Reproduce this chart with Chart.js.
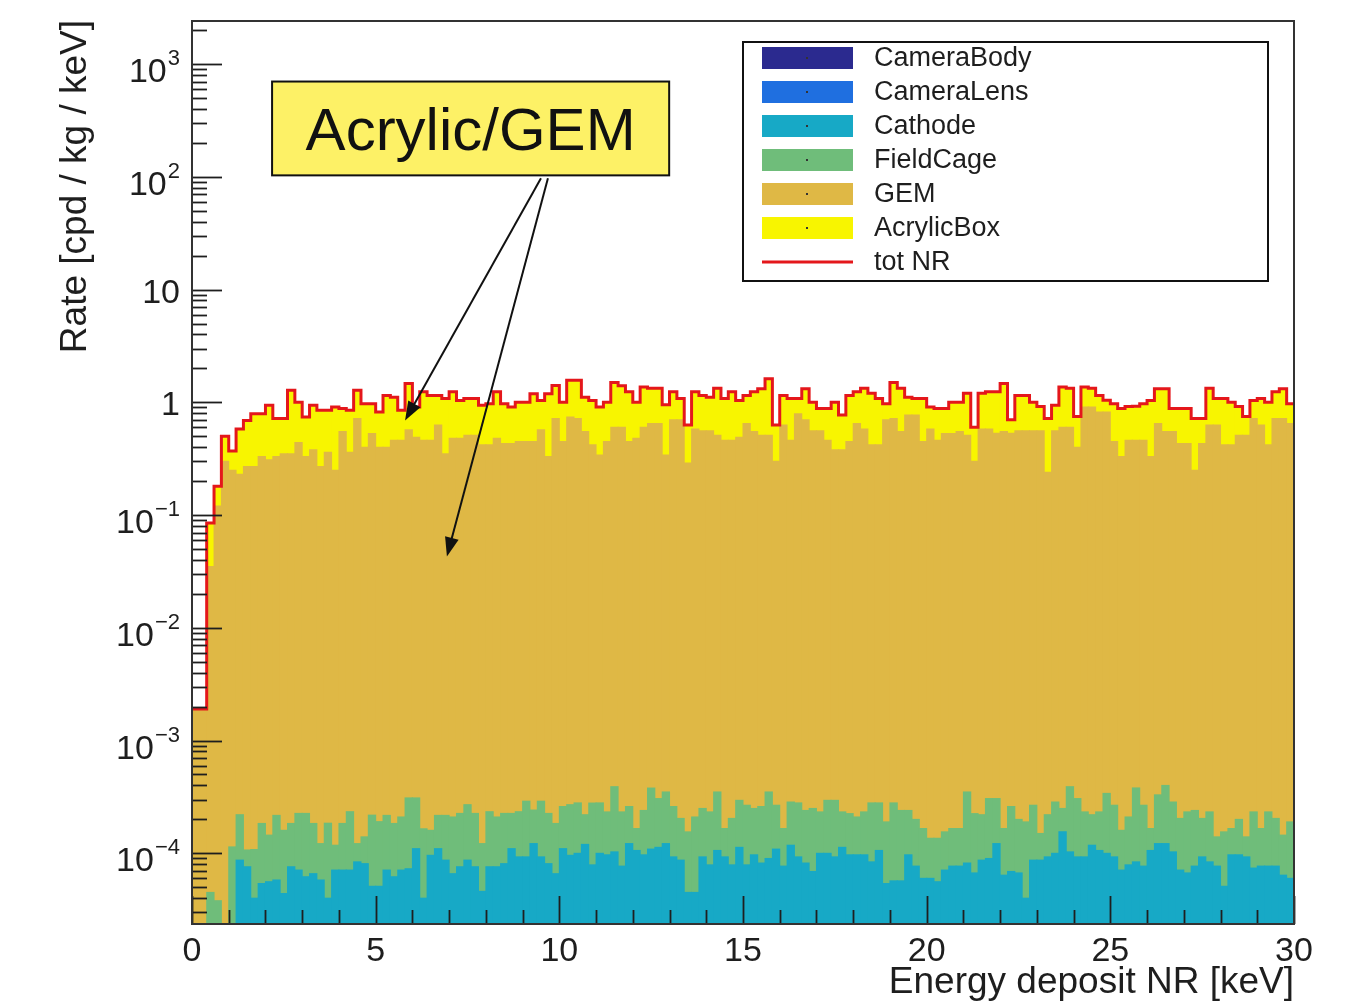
<!DOCTYPE html>
<html>
<head>
<meta charset="utf-8">
<script src="https://cdn.jsdelivr.net/npm/chart.js@4.4.0/dist/chart.umd.min.js"></script>
<style>
  html, body { margin: 0; padding: 0; background: #fff; }
  #wrap { width: 1358px; height: 1004px; position: relative; }
</style>
</head>
<body>
<div id="wrap"><canvas id="nr_chart"></canvas></div>
<script>
// histogram binning (keV) and axis range
const binWidth = 0.2;
const xMin = 0, xMax = 30;
const yMin = 2.36e-5, yMax = 2410;
const xTickLabels = [0, 5, 10, 15, 20, 25, 30];
const yDecades = [-4, -3, -2, -1, 0, 1, 2, 3];

// rates per bin [cpd / kg / keV]
const cathode = [0,0,0,0,0,0,8.7e-5,7.6e-5,4.0e-5,5.4e-5,
  5.6e-5,5.8e-5,4.4e-5,7.6e-5,7.1e-5,6.2e-5,6.6e-5,5.8e-5,4.0e-5,7.1e-5,
  7.1e-5,7.1e-5,8.4e-5,8.1e-5,5.1e-5,5.1e-5,7.1e-5,6.2e-5,7.1e-5,7.3e-5,
  1.1e-4,4.0e-5,9.6e-5,1.1e-4,8.7e-5,6.6e-5,7.6e-5,8.7e-5,7.6e-5,4.6e-5,
  7.6e-5,7.6e-5,8.1e-5,1.1e-4,9.3e-5,9.3e-5,1.22e-4,9.3e-5,8.1e-5,6.6e-5,
  1.1e-4,9.6e-5,1.0e-4,1.2e-4,7.9e-5,1.0e-4,9.7e-5,1.03e-4,7.7e-5,1.22e-4,
  1.06e-4,9.7e-5,1.09e-4,1.13e-4,1.22e-4,9.3e-5,8.7e-5,4.5e-5,4.5e-5,9.3e-5,
  7.9e-5,1.06e-4,9.3e-5,7.9e-5,1.13e-4,7.9e-5,9.7e-5,8.2e-5,9.0e-5,1.09e-4,
  7.7e-5,1.18e-4,9.3e-5,8.2e-5,6.9e-5,1.0e-4,1.0e-4,9.3e-5,1.13e-4,9.7e-5,
  9.7e-5,9.7e-5,8.4e-5,1.06e-4,5.4e-5,5.7e-5,5.7e-5,9.7e-5,7.7e-5,6.0e-5,
  6.0e-5,5.6e-5,7.1e-5,7.7e-5,7.7e-5,8.2e-5,6.7e-5,8.7e-5,9.0e-5,1.22e-4,
  6.4e-5,6.9e-5,6.7e-5,4.0e-5,8.7e-5,8.7e-5,9.3e-5,1.0e-4,1.55e-4,1.03e-4,
  9.3e-5,9.3e-5,1.18e-4,1.06e-4,1.0e-4,9.3e-5,7.1e-5,7.9e-5,8.4e-5,7.7e-5,
  1.06e-4,1.22e-4,1.22e-4,1.03e-4,7.1e-5,6.7e-5,7.7e-5,9.3e-5,8.4e-5,7.7e-5,
  5.1e-5,9.7e-5,9.7e-5,9.3e-5,7.4e-5,7.7e-5,7.7e-5,7.7e-5,6.4e-5,6.0e-5];

const fieldCage = [0,0,4.5e-5,3.8e-5,0,1.14e-4,1.33e-4,3.1e-5,6.8e-5,1.3e-4,
  8.9e-5,1.59e-4,1.16e-4,1.08e-4,1.55e-4,1.64e-4,1.18e-4,6.4e-5,1.45e-4,4.7e-5,
  1.13e-4,1.63e-4,3.8e-5,5.9e-5,1.67e-4,1.4e-4,1.46e-4,1.22e-4,1.39e-4,2.37e-4,
  2.0e-4,1.25e-4,6.4e-5,1.07e-4,1.3e-4,1.44e-4,1.5e-4,1.83e-4,1.5e-4,7.6e-5,
  1.58e-4,1.34e-4,1.45e-4,1.16e-4,1.41e-4,1.97e-4,1.2e-4,1.97e-4,1.45e-4,1.18e-4,
  1.5e-4,1.74e-4,1.8e-4,1.0e-4,2.0e-4,1.8e-4,1.36e-4,2.87e-4,1.56e-4,1.38e-4,
  6.0e-5,1.43e-4,2.7e-4,1.93e-4,2.28e-4,1.67e-4,1.17e-4,1.1e-4,1.65e-4,1.57e-4,
  1.54e-4,2.44e-4,7.3e-5,1.25e-4,1.82e-4,1.88e-4,1.53e-4,1.78e-4,2.6e-4,1.58e-4,
  8.9e-5,1.67e-4,1.87e-4,1.58e-4,1.81e-4,1.33e-4,1.95e-4,2.02e-4,1.2e-4,1.28e-4,
  1.13e-4,1.36e-4,1.96e-4,1.74e-4,1.36e-4,2.23e-4,1.83e-4,1.43e-4,1.23e-4,1.06e-4,
  7.6e-5,8.0e-5,8.4e-5,8.9e-5,8.9e-5,2.68e-4,1.58e-4,1.33e-4,2.16e-4,1.84e-4,
  1.02e-4,1.91e-4,1.33e-4,1.5e-4,1.8e-4,6.3e-5,1.27e-4,1.85e-4,9.5e-5,2.87e-4,
  2.13e-4,1.4e-4,1.02e-4,1.27e-4,2.4e-4,1.74e-4,8.9e-5,1.31e-4,2.96e-4,1.9e-4,
  6.0e-5,2.08e-4,2.78e-4,1.82e-4,1.33e-4,1.66e-4,1.63e-4,1.11e-4,1.49e-4,6.3e-5,
  1.04e-4,6.9e-5,1.03e-4,4.7e-5,1.59e-4,8.9e-5,1.56e-4,1.27e-4,8.1e-5,1.3e-4];

const gem = [0.0019,0.0019,0.035,0.12,0.30,0.25,0.23,0.27,0.27,0.33,
  0.31,0.33,0.35,0.35,0.44,0.33,0.38,0.27,0.36,0.25,
  0.55,0.36,0.72,0.40,0.53,0.40,0.40,0.46,0.46,0.57,
  0.49,0.46,0.46,0.63,0.35,0.48,0.48,0.51,0.51,0.42,
  0.42,0.48,0.43,0.43,0.45,0.45,0.45,0.57,0.33,0.72,
  0.45,0.74,0.72,0.55,0.42,0.34,0.45,0.60,0.60,0.45,
  0.48,0.60,0.65,0.65,0.34,0.70,0.70,0.29,0.58,0.56,
  0.56,0.51,0.46,0.46,0.49,0.65,0.55,0.51,0.51,0.30,
  0.63,0.46,0.79,0.70,0.56,0.56,0.46,0.38,0.38,0.45,
  0.65,0.58,0.42,0.42,0.70,0.72,0.55,0.77,0.77,0.45,
  0.58,0.46,0.53,0.53,0.55,0.51,0.30,0.58,0.58,0.53,
  0.55,0.53,0.56,0.56,0.56,0.56,0.24,0.56,0.60,0.60,
  0.40,0.91,0.91,0.82,0.82,0.45,0.33,0.46,0.46,0.46,
  0.33,0.65,0.55,0.55,0.43,0.43,0.25,0.43,0.63,0.63,
  0.42,0.42,0.51,0.51,0.72,0.63,0.42,0.72,0.72,0.65];

const acrylicBox = [0,0,0.05,0.06,0.20,0.12,0.35,0.42,0.52,0.46,
  0.63,0.39,0.37,0.93,0.56,0.41,0.56,0.58,0.49,0.66,
  0.33,0.49,0.56,0.57,0.44,0.42,0.75,0.65,0.39,0.90,
  0.42,0.78,0.69,0.52,0.73,0.76,0.56,0.57,0.57,0.52,
  0.55,0.76,0.54,0.48,0.55,0.55,0.74,0.47,0.86,0.69,
  0.55,0.83,0.85,0.56,0.62,0.57,0.55,0.90,0.80,0.79,
  0.52,0.77,0.68,0.68,0.61,0.54,0.38,0.34,0.66,0.59,
  0.55,0.82,0.62,0.78,0.55,0.50,0.69,0.81,1.11,0.33,
  0.52,0.62,0.29,0.62,0.44,0.32,0.42,0.62,0.39,0.70,
  0.59,0.75,0.78,0.66,0.27,0.78,0.78,0.34,0.31,0.63,
  0.33,0.42,0.35,0.47,0.45,0.69,0.30,0.62,0.66,0.71,
  0.92,0.17,0.59,0.59,0.44,0.36,0.48,0.38,0.77,0.73,
  0.35,0.46,0.42,0.33,0.22,0.52,0.55,0.46,0.46,0.51,
  0.71,0.67,0.77,0.33,0.45,0.45,0.47,0.29,0.70,0.45,
  0.66,0.58,0.41,0.24,0.32,0.45,0.58,0.52,0.60,0.32];

const FONT = "'Liberation Sans', Arial, Helvetica, sans-serif";
const INK = '#1e1e1e';

// bin centres for the bars, bin edges for the total outline
const binCenters = gem.map((_, i) => (i + 0.5) * binWidth);
const totNR = gem.map((_, i) => cathode[i] + fieldCage[i] + gem[i] + acrylicBox[i]);
const totEdges = totNR.map((v, i) => ({ x: i * binWidth, y: v }));
totEdges.push({ x: totNR.length * binWidth, y: totNR[totNR.length - 1] });

const toPoints = arr => arr.map((v, i) => ({ x: binCenters[i], y: v }));

function barSet(label, values, color) {
  return {
    type: 'bar',
    label: label,
    data: toPoints(values),
    backgroundColor: color,
    borderWidth: 0,
    barPercentage: 1,
    categoryPercentage: 1,
    inflateAmount: 0.5,
    order: 1
  };
}

// annotation, in data coordinates
const note = { text: 'Acrylic/GEM', x0: 2.18, x1: 12.99, yTop: 700, yBottom: 103 };
const noteArrows = [
  { from: [9.50, 97], to: [5.80, 0.69] },
  { from: [9.69, 97], to: [6.94, 0.043] }
];

function drawArrow(ctx, x1, y1, x2, y2) {
  const a = Math.atan2(y2 - y1, x2 - x1);
  const len = 19, half = 7;
  ctx.beginPath();
  ctx.moveTo(x1, y1);
  ctx.lineTo(x2 - (len - 2) * Math.cos(a), y2 - (len - 2) * Math.sin(a));
  ctx.stroke();
  ctx.beginPath();
  ctx.moveTo(x2, y2);
  ctx.lineTo(x2 - len * Math.cos(a) + half * Math.sin(a), y2 - len * Math.sin(a) - half * Math.cos(a));
  ctx.lineTo(x2 - len * Math.cos(a) - half * Math.sin(a), y2 - len * Math.sin(a) + half * Math.cos(a));
  ctx.closePath();
  ctx.fill();
}

const rootStyle = {
  id: 'rootStyle',
  afterDatasetsDraw(chart) {
    const { ctx, chartArea: a, scales: { x, y } } = chart;
    ctx.save();
    ctx.strokeStyle = INK;
    // y ticks (log, with minor 2..9)
    for (let k = -5; k <= 3; k++) {
      for (let m = 1; m <= 9; m++) {
        const v = m * Math.pow(10, k);
        if (v < yMin || v > yMax) continue;
        const py = Math.round(y.getPixelForValue(v)) + 0.5;
        ctx.lineWidth = 1.8;
        ctx.beginPath();
        ctx.moveTo(a.left, py);
        ctx.lineTo(a.left + (m === 1 ? 30 : 15), py);
        ctx.stroke();
      }
    }
    // x ticks
    for (let k = xMin; k <= xMax; k++) {
      const px = Math.round(x.getPixelForValue(k)) + 0.5;
      ctx.lineWidth = 1.8;
      ctx.beginPath();
      ctx.moveTo(px, a.bottom);
      ctx.lineTo(px, a.bottom - (k % 5 === 0 ? 28 : 14));
      ctx.stroke();
    }
    // frame
    ctx.lineWidth = 2;
    ctx.strokeStyle = '#333';
    ctx.strokeRect(a.left, a.top, a.right - a.left, a.bottom - a.top);
    ctx.restore();
  },
  afterDraw(chart) {
    const { ctx, chartArea: a, scales: { x, y } } = chart;
    ctx.save();
    ctx.fillStyle = INK;

    // y tick labels with superscript exponents
    yDecades.forEach(k => {
      const py = y.getPixelForValue(Math.pow(10, k));
      const right = 180;
      ctx.textAlign = 'right';
      ctx.textBaseline = 'alphabetic';
      if (k === 0 || k === 1) {
        ctx.font = '34px ' + FONT;
        ctx.fillText(k === 0 ? '1' : '10', right, py + 13);
      } else {
        const sup = k < 0 ? '\u2212' + (-k) : String(k);
        ctx.font = '22px ' + FONT;
        const w = ctx.measureText(sup).width;
        ctx.fillText(sup, right, py + 1);
        ctx.font = '34px ' + FONT;
        ctx.fillText('10', right - w - 1, py + 18);
      }
    });

    // x tick labels
    ctx.font = '34px ' + FONT;
    ctx.textAlign = 'center';
    xTickLabels.forEach(v => {
      ctx.fillText(String(v), x.getPixelForValue(v), 961);
    });

    // axis titles
    ctx.font = '37px ' + FONT;
    ctx.textAlign = 'right';
    ctx.fillText('Energy deposit NR [keV]', a.right, 993);
    ctx.save();
    ctx.translate(86, a.top - 1);
    ctx.rotate(-Math.PI / 2);
    ctx.fillText('Rate [cpd / kg / keV]', 0, 0);
    ctx.restore();

    // legend box
    const lg = { left: 743, top: 42, right: 1268, bottom: 281 };
    ctx.fillStyle = '#fff';
    ctx.fillRect(lg.left, lg.top, lg.right - lg.left, lg.bottom - lg.top);
    ctx.strokeStyle = '#111';
    ctx.lineWidth = 2;
    ctx.strokeRect(lg.left, lg.top, lg.right - lg.left, lg.bottom - lg.top);
    ctx.font = '27px ' + FONT;
    ctx.textAlign = 'left';
    ctx.textBaseline = 'middle';
    chart.data.datasets.forEach((ds, i) => {
      const cy = 58 + i * 34;
      if (ds.type === 'line') {
        ctx.strokeStyle = ds.borderColor;
        ctx.lineWidth = 3;
        ctx.beginPath();
        ctx.moveTo(762, cy);
        ctx.lineTo(853, cy);
        ctx.stroke();
      } else {
        ctx.fillStyle = ds.backgroundColor;
        ctx.fillRect(762, cy - 11, 91, 22);
        ctx.fillStyle = '#333';
        ctx.fillRect(806, cy - 1, 2, 2);
      }
      ctx.fillStyle = INK;
      ctx.fillText(ds.label, 874, cy + 1);
    });

    // annotation box and arrows
    const bx0 = x.getPixelForValue(note.x0), bx1 = x.getPixelForValue(note.x1);
    const by0 = y.getPixelForValue(note.yTop), by1 = y.getPixelForValue(note.yBottom);
    ctx.fillStyle = '#fdf166';
    ctx.fillRect(bx0, by0, bx1 - bx0, by1 - by0);
    ctx.strokeStyle = '#111';
    ctx.lineWidth = 2;
    ctx.strokeRect(bx0, by0, bx1 - bx0, by1 - by0);
    ctx.fillStyle = '#111';
    ctx.font = '60px ' + FONT;
    ctx.textAlign = 'center';
    ctx.textBaseline = 'alphabetic';
    ctx.fillText(note.text, (bx0 + bx1) / 2, (by0 + by1) / 2 + 22);
    ctx.lineWidth = 2;
    noteArrows.forEach(ar => {
      drawArrow(ctx,
        x.getPixelForValue(ar.from[0]), y.getPixelForValue(ar.from[1]),
        x.getPixelForValue(ar.to[0]), y.getPixelForValue(ar.to[1]));
    });
    ctx.restore();
  }
};

const ctx = document.getElementById('nr_chart').getContext('2d');
new Chart(ctx, {
  type: 'bar',
  data: {
    datasets: [
      barSet('CameraBody', [], '#2b2a8f'),
      barSet('CameraLens', [], '#1f6fe0'),
      barSet('Cathode', cathode, '#17a9c6'),
      barSet('FieldCage', fieldCage, '#6fbd7a'),
      barSet('GEM', gem, '#dfb845'),
      barSet('AcrylicBox', acrylicBox, '#f8f500'),
      {
        type: 'line',
        label: 'tot NR',
        data: totEdges,
        borderColor: '#e4171b',
        borderWidth: 3,
        pointRadius: 0,
        fill: false,
        stepped: true,
        stack: 'total',
        order: -1
      }
    ]
  },
  options: {
    responsive: true,
    maintainAspectRatio: false,
    devicePixelRatio: 1,
    animation: false,
    events: [],
    layout: { padding: { left: 192, right: 64, top: 21, bottom: 80 } },
    plugins: { legend: { display: false }, tooltip: { enabled: false } },
    scales: {
      x: { type: 'linear', min: xMin, max: xMax, offset: false, stacked: true, display: false },
      y: { type: 'logarithmic', min: yMin, max: yMax, stacked: true, display: false }
    }
  },
  plugins: [rootStyle]
});
</script>
</body>
</html>
